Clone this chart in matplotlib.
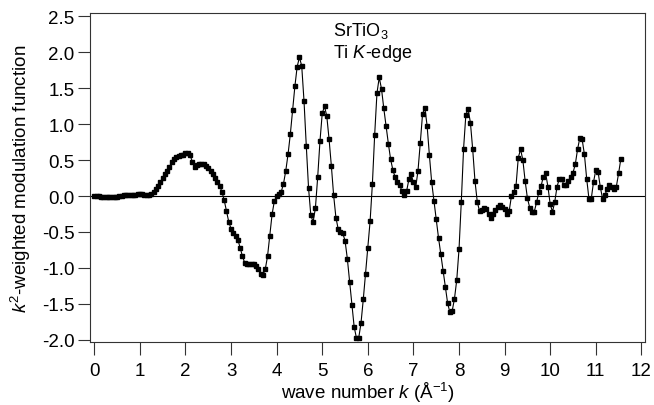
import matplotlib
matplotlib.use("Agg")
import matplotlib.pyplot as plt

plt.rcParams['font.family'] = ['Liberation Sans', 'DejaVu Sans']
plt.rcParams['mathtext.fontset'] = 'custom'
plt.rcParams['mathtext.rm'] = 'Liberation Sans'
plt.rcParams['mathtext.it'] = 'Liberation Sans:italic'

k = [
    0.00, 0.05, 0.10, 0.15, 0.20, 0.25, 0.30, 0.35, 0.40, 0.45,
    0.50, 0.55, 0.60, 0.65, 0.70, 0.75, 0.80, 0.85, 0.90, 0.95,
    1.00, 1.05, 1.10, 1.15, 1.20, 1.25, 1.30, 1.35, 1.40, 1.45,
    1.50, 1.55, 1.60, 1.65, 1.70, 1.75, 1.80, 1.85, 1.90, 1.95,
    2.00, 2.05, 2.10, 2.15, 2.20, 2.25, 2.30, 2.35, 2.40, 2.45,
    2.50, 2.55, 2.60, 2.65, 2.70, 2.75, 2.80, 2.85, 2.90, 2.95,
    3.00, 3.05, 3.10, 3.15, 3.20, 3.25, 3.30, 3.35, 3.40, 3.45,
    3.50, 3.55, 3.60, 3.65, 3.70, 3.75, 3.80, 3.85, 3.90, 3.95,
    4.00, 4.05, 4.10, 4.15, 4.20, 4.25, 4.30, 4.35, 4.40, 4.45,
    4.50, 4.55, 4.60, 4.65, 4.70, 4.75, 4.80, 4.85, 4.90, 4.95,
    5.00, 5.05, 5.10, 5.15, 5.20, 5.25, 5.30, 5.35, 5.40, 5.45,
    5.50, 5.55, 5.60, 5.65, 5.70, 5.75, 5.80, 5.85, 5.90, 5.95,
    6.00, 6.05, 6.10, 6.15, 6.20, 6.25, 6.30, 6.35, 6.40, 6.45,
    6.50, 6.55, 6.60, 6.65, 6.70, 6.75, 6.80, 6.85, 6.90, 6.95,
    7.00, 7.05, 7.10, 7.15, 7.20, 7.25, 7.30, 7.35, 7.40, 7.45,
    7.50, 7.55, 7.60, 7.65, 7.70, 7.75, 7.80, 7.85, 7.90, 7.95,
    8.00, 8.05, 8.10, 8.15, 8.20, 8.25, 8.30, 8.35, 8.40, 8.45,
    8.50, 8.55, 8.60, 8.65, 8.70, 8.75, 8.80, 8.85, 8.90, 8.95,
    9.00, 9.05, 9.10, 9.15, 9.20, 9.25, 9.30, 9.35, 9.40, 9.45,
    9.50, 9.55, 9.60, 9.65, 9.70, 9.75, 9.80, 9.85, 9.90, 9.95,
    10.00, 10.05, 10.10, 10.15, 10.20, 10.25, 10.30, 10.35, 10.40, 10.45,
    10.50, 10.55, 10.60, 10.65, 10.70, 10.75, 10.80, 10.85, 10.90, 10.95,
    11.00, 11.05, 11.10, 11.15, 11.20, 11.25, 11.30, 11.35, 11.40, 11.45,
    11.50, 11.55,
]

chi = [
    0.00, 0.00, -0.005, -0.01, -0.01, -0.015, -0.02, -0.02, -0.02, -0.015,
    -0.01, 0.00, 0.005, 0.01, 0.015, 0.02, 0.02, 0.02, 0.02, 0.025,
    0.03, 0.025, 0.02, 0.01, 0.01, 0.03, 0.06, 0.10, 0.14, 0.19,
    0.25, 0.30, 0.35, 0.41, 0.47, 0.51, 0.54, 0.555, 0.565, 0.575,
    0.60, 0.605, 0.57, 0.48, 0.41, 0.43, 0.44, 0.45, 0.44, 0.42,
    0.39, 0.35, 0.30, 0.25, 0.195, 0.14, 0.06, -0.06, -0.21, -0.36,
    -0.455, -0.51, -0.55, -0.61, -0.72, -0.84, -0.93, -0.94, -0.94, -0.94,
    -0.94, -0.97, -1.02, -1.09, -1.10, -1.02, -0.84, -0.55, -0.255, -0.07,
    0.00, 0.03, 0.056, 0.17, 0.35, 0.58, 0.86, 1.195, 1.525, 1.80,
    1.93, 1.81, 1.325, 0.70, 0.11, -0.27, -0.36, -0.17, 0.26, 0.76,
    1.15, 1.25, 1.11, 0.79, 0.42, 0.01, -0.30, -0.46, -0.50, -0.52,
    -0.62, -0.87, -1.19, -1.52, -1.82, -1.975, -1.975, -1.77, -1.44, -1.08,
    -0.73, -0.35, 0.17, 0.85, 1.43, 1.65, 1.49, 1.22, 0.97, 0.73,
    0.51, 0.36, 0.26, 0.195, 0.15, 0.065, 0.01, 0.065, 0.23, 0.30,
    0.19, 0.12, 0.35, 0.735, 1.14, 1.23, 0.98, 0.57, 0.195, -0.07,
    -0.325, -0.58, -0.81, -1.05, -1.26, -1.49, -1.62, -1.60, -1.43, -1.17,
    -0.74, -0.08, 0.66, 1.13, 1.21, 1.02, 0.65, 0.21, -0.08, -0.21,
    -0.195, -0.16, -0.185, -0.245, -0.31, -0.255, -0.195, -0.15, -0.125, -0.15,
    -0.175, -0.255, -0.21, 0.00, 0.056, 0.14, 0.535, 0.65, 0.50, 0.21,
    -0.03, -0.16, -0.22, -0.22, -0.09, 0.05, 0.14, 0.27, 0.315, 0.13,
    -0.115, -0.22, -0.08, 0.13, 0.24, 0.23, 0.16, 0.16, 0.21, 0.27,
    0.325, 0.44, 0.65, 0.81, 0.79, 0.58, 0.24, -0.04, -0.04, 0.195,
    0.36, 0.335, 0.12, -0.04, 0.01, 0.10, 0.15, 0.13, 0.10, 0.13,
    0.315, 0.52,
]

xticks = list(range(0, 13))
yticks = [-2.0, -1.5, -1.0, -0.5, 0.0, 0.5, 1.0, 1.5, 2.0, 2.5]

fig = plt.figure(figsize=(6.54, 4.06), dpi=100)
ax = fig.add_axes([0.138, 0.1544, 0.849, 0.811])

ax.axhline(0, color='black', lw=0.8, zorder=1)
ax.plot(k, chi, color='black', lw=0.8, marker='s', markersize=3.4,
        markerfacecolor='black', markeredgecolor='black', zorder=2)

ax.set_xlim(-0.088, 12.09)
ax.set_ylim(-2.036, 2.546)
ax.set_xticks(xticks)
ax.set_yticks(yticks)
ax.set_yticklabels([f"{v:.1f}" for v in yticks])
ax.tick_params(direction='out', length=9, width=0.8, labelsize=13.5, pad=2.5, color='#333333')
ax.tick_params(axis='x', pad=5.5)
for s in ax.spines.values():
    s.set_linewidth(0.8)
    s.set_color('#333333')

ax.set_xlabel("wave number $k$ (Å$^{-1}$)", fontsize=13.5, labelpad=0)
ax.set_ylabel("$k^2$-weighted modulation function", fontsize=13.5, labelpad=6)

ax.text(5.23, 2.24, "SrTiO$_3$", fontsize=13, va='baseline', ha='left')
ax.text(5.23, 1.94, "Ti $K$-edge", fontsize=13, va='baseline', ha='left')

fig.savefig("out.png", dpi=100)
